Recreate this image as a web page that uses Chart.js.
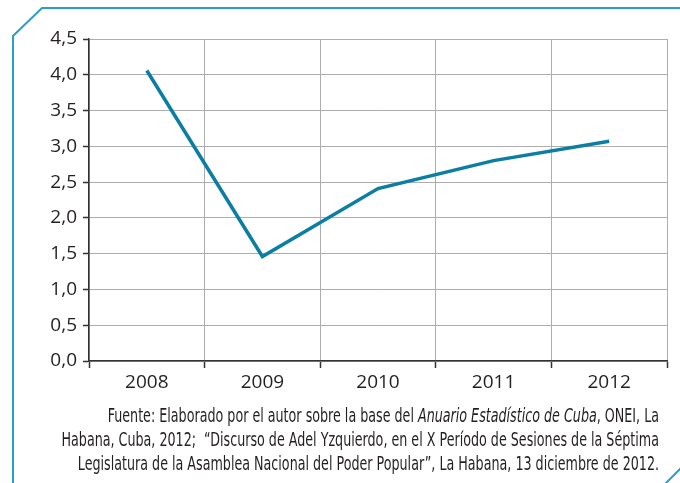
<!DOCTYPE html>
<html>
<head>
<meta charset="utf-8">
<script src="https://cdn.jsdelivr.net/npm/chart.js@4"></script>
<style>
  html, body { margin: 0; padding: 0; background: #fff; }
  #wrap { position: relative; width: 680px; height: 483px; }
</style>
</head>
<body>
<div id="wrap"><canvas id="c" width="680" height="483"></canvas></div>
<script>
const years = ['2008', '2009', '2010', '2011', '2012'];
const growth = [4.06, 1.46, 2.41, 2.80, 3.07];
const yMin = 0, yMax = 4.5, yStep = 0.5;
const sourceLines = [
  [['Fuente: Elaborado por el autor sobre la base del ', false], ['Anuario Estadístico de Cuba', true], [', ONEI, La', false]],
  [['Habana, Cuba, 2012;  “Discurso de Adel Yzquierdo, en el X Período de Sesiones de la Séptima', false]],
  [['Legislatura de la Asamblea Nacional del Poder Popular”, La Habana, 13 diciembre de 2012.', false]]
];

const TEXT = '#231f20';
const condFont = (it) => (it ? 'italic ' : '') + '20px "Liberation Sans Narrow", "DejaVu Sans Condensed", "Noto Sans", sans-serif';

const decor = {
  id: 'decor',
  afterDraw(chart) {
    const ctx = chart.ctx;
    ctx.save();
    ctx.strokeStyle = '#2b9ec4';
    ctx.lineWidth = 2;
    ctx.beginPath();
    ctx.moveTo(13, 483);
    ctx.lineTo(13, 36);
    ctx.lineTo(42, 8);
    ctx.lineTo(680, 8);
    ctx.stroke();
    ctx.beginPath();
    ctx.moveTo(665, 484);
    ctx.lineTo(681, 468);
    ctx.stroke();
    const widths = sourceLines.map(line => line.reduce((s, [t, it]) => { ctx.font = condFont(it); return s + ctx.measureText(t).width; }, 0));
    const targets = [550, 596, 584];
    const sx = (targets[0] + targets[1] + targets[2]) / (widths[0] + widths[1] + widths[2]);
    const baselines = [422, 446, 470];
    ctx.fillStyle = TEXT;
    ctx.textBaseline = 'alphabetic';
    ctx.textAlign = 'left';
    sourceLines.forEach((line, i) => {
      const right = 659;
      let x = right - widths[i] * sx;
      ctx.save();
      ctx.translate(x, baselines[i]);
      ctx.scale(sx, 1);
      let cx = 0;
      line.forEach(([t, it]) => {
        ctx.font = condFont(it);
        ctx.fillText(t, cx, 0);
        cx += ctx.measureText(t).width;
      });
      ctx.restore();
    });
    ctx.restore();
  }
};

new Chart(document.getElementById('c'), {
  type: 'line',
  data: {
    labels: years,
    datasets: [{
      data: growth,
      borderColor: '#0b7ea3',
      borderWidth: 3.5,
      pointRadius: 0,
      tension: 0,
      fill: false
    }]
  },
  options: {
    responsive: false,
    animation: false,
    devicePixelRatio: 1,
    layout: { padding: { left: 0, top: 39, right: 13, bottom: 92 } },
    plugins: { legend: { display: false }, tooltip: { enabled: false } },
    scales: {
      x: {
        type: 'category',
        offset: true,
        grid: { offset: true, color: '#adadad', lineWidth: 1, drawTicks: true, tickLength: 7, tickColor: '#333', tickWidth: 1.5 },
        border: { display: true, color: '#333', width: 1.5 },
        ticks: { color: TEXT, padding: 3, font: { family: '"Open Sans", sans-serif', size: 19 }, maxRotation: 0 },
        afterFit(s) { s.height = 30; }
      },
      y: {
        min: yMin, max: yMax,
        grid: { color: '#adadad', lineWidth: 1, drawTicks: true, tickLength: 6, tickColor: '#333', tickWidth: 1.5 },
        border: { display: true, color: '#333', width: 1.5 },
        ticks: {
          stepSize: yStep, color: TEXT, padding: 6,
          font: { family: '"Open Sans", sans-serif', size: 19 },
          callback: v => v.toFixed(1).replace('.', ',')
        },
        afterFit(s) { s.width = 89; }
      }
    }
  },
  plugins: [decor]
});
</script>
</body>
</html>
